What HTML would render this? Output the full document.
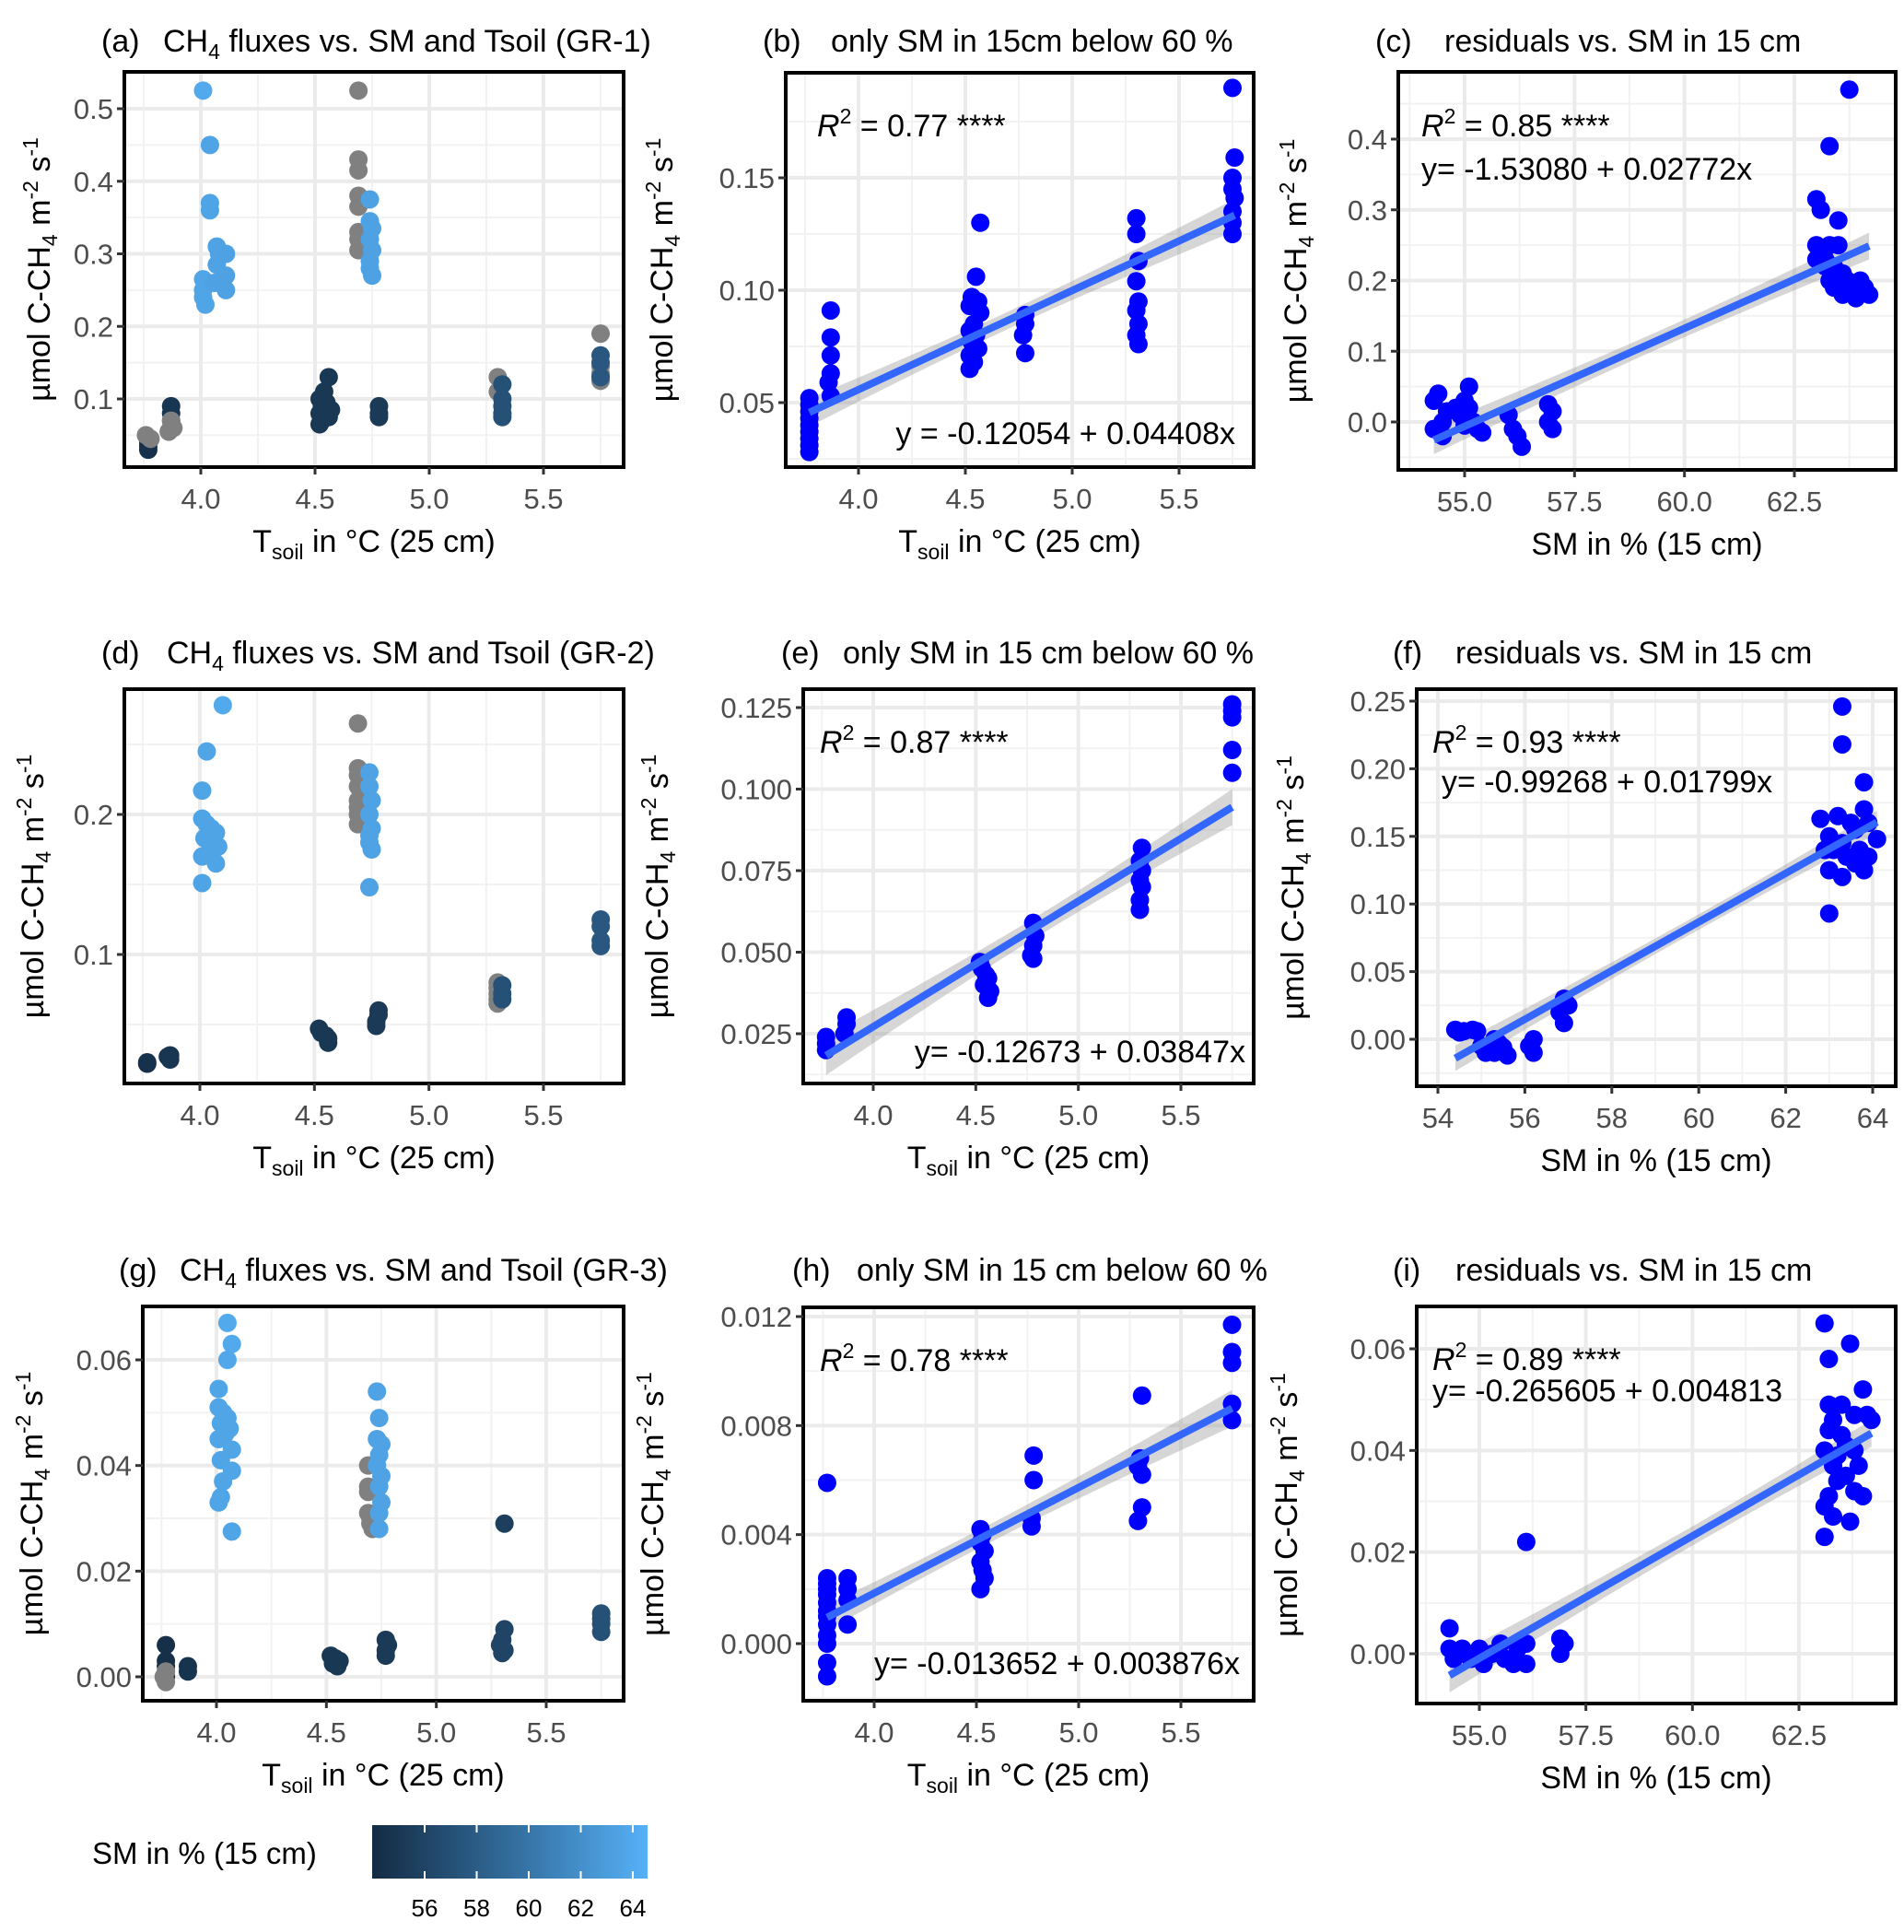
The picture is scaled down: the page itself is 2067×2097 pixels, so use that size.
<!DOCTYPE html>
<html><head><meta charset="utf-8"><style>
html,body{margin:0;padding:0;background:#fff;}
svg{display:block;font-family:"Liberation Sans",Arial,sans-serif;}
</style></head><body>
<svg id="fig" width="2067" height="2097" viewBox="0 0 2067 2097" xmlns="http://www.w3.org/2000/svg"></svg>
<script>
// ---------- DATA ----------
const aX=[3.77,3.77,3.77,3.77,3.76,3.78,3.87,3.87,3.87,3.87,3.86,3.87,3.88,3.86,4.01,4.04,4.04,4.04,4.01,4.01,4.01,4.02,4.07,4.08,4.07,4.11,4.11,4.11,4.06,4.56,4.54,4.52,4.55,4.53,4.57,4.52,4.56,4.53,4.52,4.69,4.69,4.69,4.69,4.69,4.69,4.69,4.70,4.69,4.74,4.74,4.75,4.74,4.75,4.74,4.74,4.75,4.78,4.78,4.78,5.30,5.30,5.32,5.32,5.32,5.32,5.32,5.75,5.75,5.75,5.75,5.75,5.75,5.75];
const aY=[0.03,0.035,0.04,0.045,0.05,0.045,0.09,0.08,0.07,0.06,0.055,0.07,0.06,0.055,0.525,0.45,0.37,0.36,0.265,0.25,0.24,0.23,0.31,0.30,0.285,0.30,0.27,0.25,0.26,0.13,0.11,0.10,0.095,0.09,0.085,0.08,0.075,0.07,0.065,0.525,0.43,0.415,0.38,0.365,0.33,0.32,0.31,0.305,0.375,0.345,0.335,0.32,0.305,0.29,0.28,0.27,0.09,0.08,0.075,0.13,0.11,0.12,0.10,0.09,0.08,0.075,0.19,0.145,0.135,0.125,0.16,0.15,0.13];
const aSM=[54.5,54.5,54.5,54.5,null,null,54.8,54.8,54.8,54.8,54.8,null,null,null,64,63.5,63.5,63.5,63.6,63.6,63.6,63.6,63.4,63.4,63.4,63.3,63.3,63.3,63.3,55,55,55,55,55,55,55,55,55,55,null,null,null,null,null,null,null,null,null,63.3,63.3,63.3,63.3,63.3,63.3,63.3,63.3,55.2,55.2,55.2,null,null,57,57,57,57,57,null,null,null,null,57.5,57.5,57.5];
const bX=[3.77,3.77,3.77,3.77,3.77,3.77,3.77,3.77,3.77,3.87,3.87,3.87,3.87,3.86,3.87,4.57,4.55,4.53,4.56,4.52,4.57,4.54,4.52,4.55,4.53,4.56,4.52,4.54,4.52,4.78,4.78,4.77,4.78,5.30,5.30,5.31,5.30,5.31,5.30,5.31,5.30,5.31,5.75,5.76,5.75,5.75,5.76,5.75,5.75,5.75];
const bY=[0.052,0.049,0.046,0.043,0.040,0.037,0.034,0.031,0.028,0.091,0.079,0.071,0.063,0.059,0.053,0.130,0.106,0.097,0.095,0.093,0.090,0.085,0.082,0.080,0.077,0.074,0.071,0.068,0.065,0.089,0.085,0.080,0.072,0.132,0.125,0.113,0.104,0.095,0.091,0.085,0.080,0.076,0.190,0.159,0.150,0.145,0.141,0.135,0.130,0.125];
const bFit=[-0.12054,0.04408];
const cX=[54.3,54.4,54.3,54.5,54.6,54.8,54.9,55.0,55.1,55.1,55.2,55.3,55.4,54.5,55.0,56.0,56.1,56.2,56.3,56.9,57.0,56.9,57.0,63.0,63.1,63.3,63.5,63.75,63.0,63.1,63.2,63.3,63.4,63.5,63.6,63.3,63.4,63.7,63.8,64.0,64.1,64.2,63.9,63.6,63.2,63.0];
const cY=[0.03,0.04,-0.01,0.0,0.015,0.02,0.01,0.03,0.05,0.02,0.0,-0.01,-0.015,-0.02,-0.005,0.01,-0.01,-0.02,-0.035,0.025,0.015,0.0,-0.01,0.315,0.30,0.39,0.285,0.47,0.25,0.24,0.23,0.25,0.22,0.25,0.21,0.20,0.19,0.20,0.185,0.20,0.19,0.18,0.175,0.18,0.22,0.23];
const cFit=[-1.53080,0.02772];
const dX=[3.77,3.77,3.87,3.87,3.86,4.10,4.03,4.01,4.01,4.03,4.05,4.07,4.02,4.06,4.08,4.04,4.01,4.07,4.01,4.69,4.69,4.69,4.69,4.69,4.69,4.69,4.69,4.74,4.74,4.75,4.74,4.75,4.74,4.74,4.75,4.74,4.52,4.53,4.55,4.56,4.56,4.78,4.78,4.77,4.77,5.30,5.30,5.30,5.30,5.30,5.32,5.32,5.32,5.75,5.75,5.75,5.75];
const dY=[0.022,0.023,0.028,0.025,0.027,0.278,0.245,0.217,0.197,0.193,0.19,0.187,0.183,0.18,0.177,0.173,0.17,0.165,0.151,0.265,0.233,0.228,0.22,0.21,0.205,0.2,0.193,0.23,0.22,0.21,0.2,0.19,0.185,0.18,0.175,0.148,0.047,0.044,0.042,0.04,0.037,0.06,0.057,0.052,0.049,0.08,0.076,0.072,0.068,0.065,0.078,0.072,0.068,0.125,0.12,0.11,0.106];
const dSM=[54.5,54.5,54.8,54.8,54.8,64,63.6,63.6,63.5,63.5,63.5,63.5,63.5,63.5,63.5,63.5,63.5,63.5,63.5,null,null,null,null,null,null,null,null,63.4,63.4,63.4,63.4,63.4,63.4,63.4,63.4,63.4,55,55,55,55,55,55.2,55.2,55.2,55.2,null,null,null,null,null,57,57,57,57.5,57.5,57.5,57.5];
const eX=[3.77,3.77,3.77,3.87,3.87,3.86,4.52,4.53,4.55,4.56,4.54,4.57,4.56,4.78,4.79,4.78,4.77,4.78,5.31,5.30,5.31,5.30,5.31,5.30,5.30,5.75,5.75,5.75,5.75,5.75];
const eY=[0.024,0.022,0.020,0.030,0.028,0.025,0.047,0.045,0.043,0.042,0.040,0.038,0.036,0.059,0.055,0.052,0.049,0.048,0.082,0.078,0.075,0.072,0.070,0.066,0.063,0.126,0.124,0.122,0.112,0.105];
const eFit=[-0.12673,0.03847];
const fX=[54.4,54.5,54.6,54.8,54.9,55.0,55.1,55.2,55.3,55.4,55.5,55.6,55.3,56.1,56.2,56.2,56.8,56.9,57.0,56.9,63.3,63.3,63.8,62.8,63.2,63.5,63.8,63.0,63.1,63.3,63.6,63.9,64.1,63.0,63.3,63.6,63.8,63.9,63.4,63.7,63.0,62.9];
const fY=[0.007,0.005,0.006,0.007,0.006,-0.005,-0.01,-0.008,0.0,-0.003,-0.006,-0.012,-0.01,-0.005,-0.01,0.0,0.02,0.03,0.025,0.012,0.246,0.218,0.19,0.163,0.165,0.16,0.17,0.15,0.14,0.145,0.155,0.16,0.148,0.125,0.12,0.13,0.125,0.135,0.135,0.14,0.093,0.14];
const fFit=[-0.99268,0.01799];
const gX=[3.77,3.77,3.77,3.77,3.77,3.76,3.77,3.77,3.87,3.87,4.05,4.07,4.05,4.01,4.01,4.03,4.05,4.02,4.06,4.04,4.01,4.07,4.02,4.07,4.03,4.02,4.01,4.07,4.69,4.69,4.69,4.69,4.70,4.70,4.71,4.73,4.74,4.73,4.75,4.74,4.73,4.75,4.74,4.75,4.74,4.74,4.52,4.54,4.56,4.53,4.55,4.77,4.78,4.77,4.77,5.31,5.31,5.30,5.29,5.31,5.30,5.75,5.75,5.75,5.75];
const gY=[0.006,0.003,0.002,0.001,0.0,0.0,-0.001,0.001,0.002,0.001,0.067,0.063,0.06,0.0545,0.051,0.05,0.049,0.048,0.047,0.046,0.045,0.043,0.041,0.039,0.037,0.034,0.033,0.0275,0.04,0.036,0.035,0.031,0.030,0.029,0.028,0.054,0.049,0.045,0.044,0.042,0.04,0.038,0.036,0.033,0.031,0.028,0.004,0.0035,0.003,0.0025,0.002,0.007,0.006,0.005,0.004,0.029,0.009,0.007,0.006,0.005,0.0045,0.012,0.011,0.01,0.0085];
const gSM=[54.4,54.4,54.4,54.4,54.4,null,null,null,54.7,54.7,64,64,63.8,63.6,63.6,63.6,63.6,63.6,63.6,63.6,63.6,63.6,63.6,63.6,63.6,63.6,63.6,63.6,null,null,null,null,null,null,null,63.4,63.4,63.4,63.4,63.4,63.4,63.4,63.4,63.4,63.4,63.4,55,55,55,55,55,55.2,55.2,55.2,55.2,55.5,56,56,56,56,56,57,57,57,57];
const hX=[3.77,3.77,3.77,3.77,3.77,3.77,3.77,3.77,3.77,3.77,3.77,3.77,3.77,3.87,3.87,3.87,3.87,4.52,4.53,4.52,4.54,4.52,4.53,4.54,4.52,4.78,4.78,4.77,4.77,5.31,5.30,5.29,5.31,5.31,5.29,5.75,5.75,5.75,5.75,5.75];
const hY=[0.0059,0.0024,0.0022,0.002,0.0018,0.0015,0.0012,0.001,0.0007,0.0003,0.0,-0.0007,-0.0012,0.0024,0.002,0.0016,0.0007,0.0042,0.004,0.0037,0.0034,0.003,0.0027,0.0024,0.002,0.0069,0.006,0.0046,0.0043,0.0091,0.0068,0.0065,0.0062,0.005,0.0045,0.0117,0.0107,0.0103,0.0088,0.0082];
const hFit=[-0.013652,0.003876];
const iX=[54.3,54.3,54.4,54.5,54.6,54.8,55.0,55.1,55.3,55.5,55.6,55.8,55.9,56.1,56.1,56.1,56.9,57.0,56.9,63.1,63.7,63.2,64.0,63.2,63.5,63.3,63.8,64.1,64.2,63.2,63.5,63.1,63.4,63.6,63.8,63.3,63.6,63.9,63.4,63.2,63.8,64.0,63.1,63.3,63.7,63.1];
const iY=[0.005,0.001,-0.001,0.0,0.001,-0.001,0.001,-0.002,0.0,0.002,-0.001,-0.002,0.001,0.002,-0.002,0.022,0.003,0.002,0.0,0.065,0.061,0.058,0.052,0.049,0.049,0.046,0.047,0.047,0.046,0.044,0.043,0.04,0.039,0.041,0.04,0.037,0.035,0.037,0.034,0.031,0.032,0.031,0.029,0.027,0.026,0.023];
const iFit=[-0.265605,0.004813];
const tX=["4.0","4.5","5.0","5.5"];
const smX1=["55.0","57.5","60.0","62.5"];
const smX2=["54","56","58","60","62","64"];
const aTicks=["0.1","0.2","0.3","0.4","0.5"];
const bTicks=["0.05","0.10","0.15"];
const cTicks=["0.0","0.1","0.2","0.3","0.4"];
const dTicks=["0.1","0.2"];
const eTicks=["0.025","0.050","0.075","0.100","0.125"];
const fTicks=["0.00","0.05","0.10","0.15","0.20","0.25"];
const gTicks=["0.00","0.02","0.04","0.06"];
const hTicks=["0.000","0.004","0.008","0.012"];
const iTicks=["0.00","0.02","0.04","0.06"];
const cbTicks=["56","58","60","62","64"];

// ---------- DRAWING ----------
const NS="http://www.w3.org/2000/svg";
const svg=document.getElementById('fig');
function mk(tag,attrs,parent){const e=document.createElementNS(NS,tag);for(const k in attrs)e.setAttribute(k,attrs[k]);(parent||svg).appendChild(e);return e;}
const LOW=[19,43,67],HIGH=[86,177,247],SMMIN=54,SMMAX=64.56;
function smColor(v){if(v===null)return '#808080';let t=(v-SMMIN)/(SMMAX-SMMIN);t=Math.max(0,Math.min(1,t));const c=LOW.map((l,i)=>Math.round(l+(HIGH[i]-l)*t));return `rgb(${c[0]},${c[1]},${c[2]})`;}
function lin(r){return v=>r[1]+(v-r[0])*(r[3]-r[1])/(r[2]-r[0]);}
const TF=31,AF=34,PF=34;

function drawPanel(cfg){
  const g=mk('g',{});
  
  
  const [L,T,R,B]=cfg.frame;
  const xs=lin(cfg.xr),ys=lin(cfg.yr);
  mk('rect',{x:L,y:T,width:R-L,height:B-T,fill:'#fff'},g);
  const grid=mk('g',{},g);
  
  
  const xv=cfg.xt.map(Number),yv=cfg.yt.map(Number);
  const dx=xv[1]-xv[0],dy=yv[1]-yv[0];
  for(let v=xv[0]-dx/2;v<=xv[xv.length-1]+dx;v+=dx){const p=xs(v);if(p>L&&p<R)mk('line',{x1:p,x2:p,y1:T,y2:B,stroke:'#F2F2F2','stroke-width':2},grid);}
  for(let v=yv[0]-dy/2;v<=yv[yv.length-1]+dy;v+=dy){const p=ys(v);if(p>T&&p<B)mk('line',{x1:L,x2:R,y1:p,y2:p,stroke:'#F2F2F2','stroke-width':2},grid);}
  xv.forEach(v=>{const p=xs(v);mk('line',{x1:p,x2:p,y1:T,y2:B,stroke:'#EBEBEB','stroke-width':4},grid);});
  yv.forEach(v=>{const p=ys(v);mk('line',{x1:L,x2:R,y1:p,y2:p,stroke:'#EBEBEB','stroke-width':4},grid);});
  if(cfg.fit){
    const X=cfg.x,Y=cfg.y,n=X.length;
    const mx=X.reduce((s,v)=>s+v,0)/n;
    let sxx=0,sse=0;
    for(let k=0;k<n;k++){sxx+=(X[k]-mx)**2;const r=Y[k]-(cfg.fit[0]+cfg.fit[1]*X[k]);sse+=r*r;}
    const s=Math.sqrt(sse/(n-2));
    const x0=Math.min(...X),x1=Math.max(...X);
    const up=[],dn=[];
    for(let k=0;k<=40;k++){const v=x0+(x1-x0)*k/40;const f=cfg.fit[0]+cfg.fit[1]*v;const se=1.4*s*Math.sqrt(1/n+(v-mx)**2/sxx);up.push(xs(v)+','+ys(f+se));dn.unshift(xs(v)+','+ys(f-se));}
    const rib=mk('polygon',{points:up.concat(dn).join(' '),fill:'#999999','fill-opacity':0.4},g);
    
    
  }
  const pts=mk('g',{},g);
  
  
  cfg.x.forEach((v,k)=>{
    const c=mk('circle',{cx:xs(v),cy:ys(cfg.y[k]),r:10,fill:cfg.sm?smColor(cfg.sm[k]):'#0000FF'},pts);
    
    
  });
  if(cfg.fit){
    const x0=Math.min(...cfg.x),x1=Math.max(...cfg.x);
    const ln=mk('line',{x1:xs(x0),y1:ys(cfg.fit[0]+cfg.fit[1]*x0),x2:xs(x1),y2:ys(cfg.fit[0]+cfg.fit[1]*x1),stroke:'#3366FF','stroke-width':8},g);
    
    
  }
  mk('rect',{x:L,y:T,width:R-L,height:B-T,fill:'none',stroke:'#000','stroke-width':4},g);
  const xa=mk('g',{},g);
  
  
  cfg.xt.forEach(t=>{const p=xs(Number(t));mk('line',{x1:p,x2:p,y1:B,y2:B+8,stroke:'#333','stroke-width':3},xa);
    const tx=mk('text',{x:p,y:B+45,'font-size':TF,fill:'#4D4D4D','text-anchor':'middle'},xa);tx.textContent=t;
    
    });
  const ya=mk('g',{},g);
  
  
  cfg.yt.forEach(t=>{const p=ys(Number(t));mk('line',{x1:L-8,x2:L,y1:p,y2:p,stroke:'#333','stroke-width':3},ya);
    const tx=mk('text',{x:L-12,y:p+11,'font-size':TF,fill:'#4D4D4D','text-anchor':'end'},ya);tx.textContent=t;
    
    });
  const xt=mk('text',{x:(L+R)/2,y:B+92,'font-size':AF,fill:'#000','text-anchor':'middle'},g);
  
  
  if(cfg.tsoil){xt.innerHTML='T<tspan font-size="23" dy="8">soil</tspan><tspan dy="-8"> in °C (25 cm)</tspan>';}
  else xt.textContent='SM in % (15 cm)';
  const cy=(T+B)/2;
  const yt=mk('text',{x:cfg.ytx,y:cy,'font-size':AF,fill:'#000','text-anchor':'middle',transform:`rotate(-90 ${cfg.ytx} ${cy})`},g);
  
  
  yt.innerHTML='µmol C-CH<tspan font-size="23" dy="8">4</tspan><tspan dy="-8"> m</tspan><tspan font-size="23" dy="-13">-2</tspan><tspan dy="13"> s</tspan><tspan font-size="23" dy="-13">-1</tspan>';
  const lt=mk('text',{x:cfg.title[0],y:cfg.title[2]+12,'font-size':PF,fill:'#000'},g);
  lt.textContent='('+cfg.id+')';
  
  
  const tt=mk('text',{x:cfg.title[1],y:cfg.title[2]+12,'font-size':PF,fill:'#000'},g);
  tt.innerHTML=cfg.ttext;
  
  
  (cfg.ann||[]).forEach(a=>{
    const t=mk('text',{x:a[0],y:a[1]+12,'font-size':34,fill:'#000','text-anchor':a[3]||'start'},g);
    t.innerHTML=a[2];
    
    
  });
}
const CHT='CH<tspan font-size="23" dy="8">4</tspan><tspan dy="-8"> fluxes vs. SM and Tsoil ';
const R2=v=>`<tspan font-style="italic">R</tspan><tspan font-size="23" dy="-14">2</tspan><tspan dy="14"> = ${v} ****</tspan>`;
const panels=[
 {id:'a',frame:[135,78,677,507],xr:[4.0,218,5.5,590],yr:[0.5,118,0.1,433],xt:tX,yt:aTicks,x:aX,y:aY,sm:aSM,tsoil:true,ytx:54,title:[110,177,44],ttext:CHT+'(GR-1)</tspan>'},
 {id:'b',frame:[853,79,1361,507],xr:[4.0,932,5.5,1280],yr:[0.15,193,0.05,437],xt:tX,yt:bTicks,x:bX,y:bY,fit:bFit,tsoil:true,ytx:730,title:[828,902,44],ttext:'only SM in 15cm below 60 %',
  ann:[[887,136,R2('0.77'),'start','r-squared-label'],[1341,470,'y = -0.12054 + 0.04408x','end','equation-label']]},
 {id:'c',frame:[1518,78,2058,510],xr:[55,1590,62.5,1948],yr:[0.4,151,0.0,458],xt:smX1,yt:cTicks,x:cX,y:cY,fit:cFit,ytx:1418,title:[1493,1568,44],ttext:'residuals vs. SM in 15 cm',
  ann:[[1543,136,R2('0.85'),'start','r-squared-label'],[1543,183,'y=  -1.53080 + 0.02772x','start','equation-label']]},
 {id:'d',frame:[135,748,677,1176],xr:[4.0,217,5.5,590],yr:[0.2,884,0.1,1036],xt:tX,yt:dTicks,x:dX,y:dY,sm:dSM,tsoil:true,ytx:47,title:[110,181,708],ttext:CHT+'(GR-2)</tspan>'},
 {id:'e',frame:[872,748,1361,1176],xr:[4.0,948,5.5,1282],yr:[0.125,768,0.025,1122],xt:tX,yt:eTicks,x:eX,y:eY,fit:eFit,tsoil:true,ytx:725,title:[848,915,708],ttext:'only SM in 15 cm below 60 %',
  ann:[[890,805,R2('0.87'),'start','r-squared-label'],[1352,1141,'y=  -0.12673 + 0.03847x','end','equation-label']]},
 {id:'f',frame:[1538,748,2058,1179],xr:[54,1561,64,2033],yr:[0.25,761,0.0,1128],xt:smX2,yt:fTicks,x:fX,y:fY,fit:fFit,ytx:1415,title:[1512,1580,708],ttext:'residuals vs. SM in 15 cm',
  ann:[[1555,805,R2('0.93'),'start','r-squared-label'],[1565,848,'y= -0.99268 + 0.01799x','start','equation-label']]},
 {id:'g',frame:[155,1418,677,1846],xr:[4.0,235,5.5,593],yr:[0.06,1476,0.0,1820],xt:tX,yt:gTicks,x:gX,y:gY,sm:gSM,tsoil:true,ytx:46,title:[129,195,1378],ttext:CHT+'(GR-3)</tspan>'},
 {id:'h',frame:[872,1419,1361,1846],xr:[4.0,949,5.5,1282],yr:[0.012,1429,0.0,1784],xt:tX,yt:hTicks,x:hX,y:hY,fit:hFit,tsoil:true,ytx:720,title:[860,930,1378],ttext:'only SM in 15 cm below 60 %',
  ann:[[890,1476,R2('0.78'),'start','r-squared-label'],[1346,1805,'y=  -0.013652 + 0.003876x','end','equation-label']]},
 {id:'i',frame:[1538,1418,2058,1849],xr:[55,1606,62.5,1953],yr:[0.06,1464,0.0,1795],xt:smX1,yt:iTicks,x:iX,y:iY,fit:iFit,ytx:1408,title:[1512,1580,1378],ttext:'residuals vs. SM in 15 cm',
  ann:[[1555,1475,R2('0.89'),'start','r-squared-label'],[1555,1509,'y=  -0.265605 + 0.004813','start','equation-label']]}
];
panels.forEach(drawPanel);

const leg=mk('g',{});


const defs=mk('defs',{},leg);
const gr=mk('linearGradient',{id:'cbg',x1:0,x2:1,y1:0,y2:0},defs);
mk('stop',{offset:0,'stop-color':'rgb(19,43,67)'},gr);
mk('stop',{offset:0.5,'stop-color':'rgb(50,108,155)'},gr);
mk('stop',{offset:1,'stop-color':'rgb(86,177,247)'},gr);
const cbL=404,cbR=703,cbT=1981,cbB=2039;
const cbx=lin([56,461,64,687]);
const bar=mk('rect',{x:cbL,y:cbT,width:cbR-cbL,height:cbB-cbT,fill:'url(#cbg)'},leg);


cbTicks.forEach(t=>{const p=cbx(Number(t));
  mk('line',{x1:p,x2:p,y1:cbT,y2:cbT+8,stroke:'#fff','stroke-width':2},leg);
  mk('line',{x1:p,x2:p,y1:cbB-8,y2:cbB,stroke:'#fff','stroke-width':2},leg);
  const tx=mk('text',{x:p,y:2080,'font-size':26,fill:'#000','text-anchor':'middle'},leg);tx.textContent=t;
  
  });
const lt=mk('text',{x:100,y:2023,'font-size':33,fill:'#000'},leg);
lt.textContent='SM in % (15 cm)';


</script>
</body></html>
